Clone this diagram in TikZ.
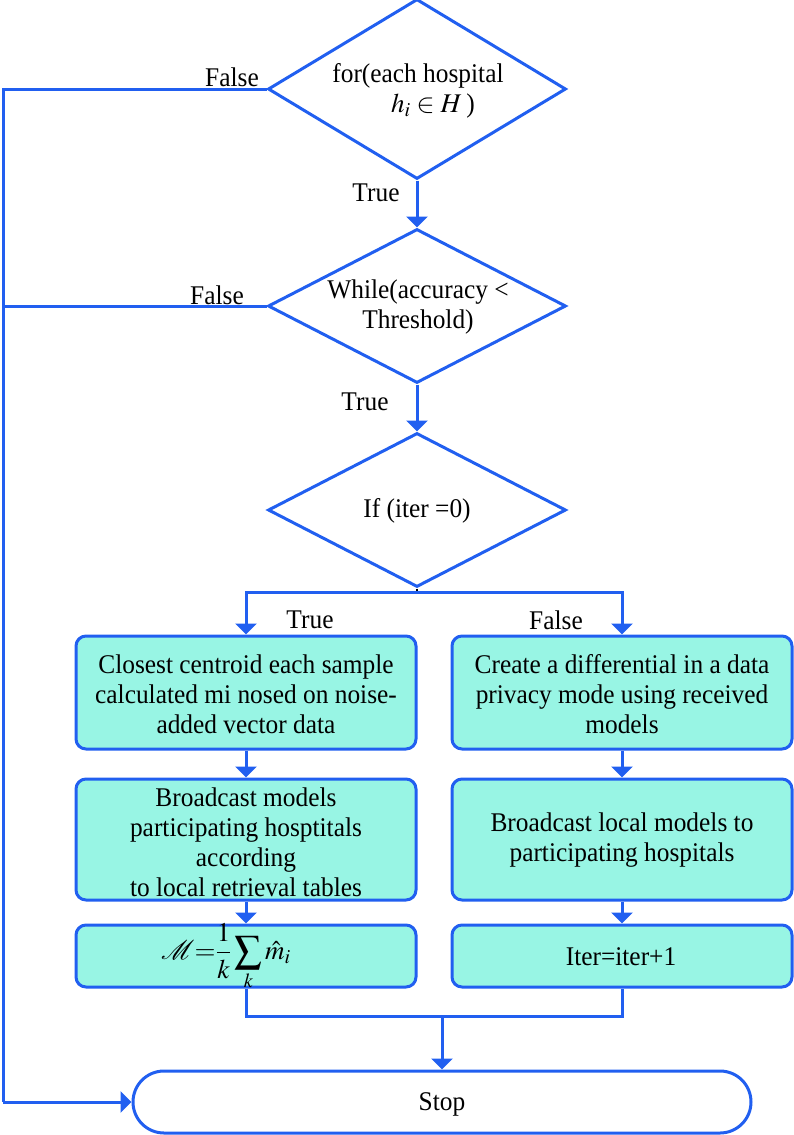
\documentclass[tikz,border=0pt]{standalone}
\usepackage{mathptmx}
\usepackage{fontspec}
\setmainfont{Liberation Serif}[FakeStretch=0.94]
\usetikzlibrary{arrows.meta,shapes.geometric}
\definecolor{fblue}{RGB}{33,95,240}
\definecolor{faqua}{RGB}{152,245,228}
\tikzset{
  dia/.style={draw=fblue,line width=3pt,shape=diamond,inner sep=0pt,minimum width=298pt,minimum height=154pt},
  procbox/.style={draw=fblue,fill=faqua,line width=3pt,rounded corners=10pt,minimum width=340pt,inner sep=0pt},
  txt/.style={align=center,font=\fontsize{27}{30}\selectfont,inner sep=0pt},
  lbl/.style={font=\fontsize{27}{30}\selectfont,inner sep=0pt},
  line/.style={draw=fblue,line width=3pt},
  arr/.style={line,-{Triangle[width=21pt,length=11pt]}},
}
\begin{document}
\begin{tikzpicture}[x=1pt,y=-1pt]
\useasboundingbox (0,0) rectangle (794,1135);
% decisions
\node[dia,minimum height=180pt] (d1) at (417,89) {};
\node[txt] (t1) at (418,91) {for(each hospital\\\hspace*{30pt}$h_i\in H$\,)};
\node[dia] (d2) at (417,306) {};
\node[txt] (t2) at (418,307) {While(accuracy <\\Threshold)};
\node[dia] (d3) at (417,510) {};
\node[txt] (t3) at (417,511) {If (iter =0)};
% process boxes
\node[procbox,minimum height=113pt] (L1) at (246,692.5) {};
\node[txt] (tL1) at (246,694) {Closest centroid each sample\\calculated mi nosed on noise-\\added vector data};
\node[procbox,minimum height=113pt] (R1) at (622,692.5) {};
\node[txt] (tR1) at (622,694) {Create a differential in a data\\privacy mode using received\\models};
\node[procbox,minimum height=121pt] (L2) at (246,839.5) {};
\node[txt] (tL2) at (246,842) {Broadcast models\\participating hosptitals\\according\\to local retrieval tables};
\node[procbox,minimum height=121pt] (R2) at (622,839.5) {};
\node[txt] (tR2) at (622,840) {Broadcast local models to\\participating hospitals};
\node[procbox,minimum height=62pt] (L3) at (246,956) {};
\node[txt] (tL3) at (226,957) {$\displaystyle \mathcal{M}{=}\frac{1}{k}\sum\limits_{k}\hat{m}_i$};
\node[procbox,minimum height=62pt] (R3) at (622,956) {};
\node[txt] (tR3) at (621,957) {Iter=iter+1};
% stop
\node[draw=fblue,line width=3pt,rounded corners=31pt,minimum width=618pt,minimum height=62pt,inner sep=0pt] (stop) at (442,1102) {};
\node[txt] (tstop) at (442,1104) {Stop};
% coordinates
\coordinate (c1) at (3,89);
\coordinate (c2) at (3,306);
\coordinate (c3) at (3,1102);
\coordinate (br) at (417,592);
\coordinate (j) at (442,1016);
% connectors
\draw[line] (d1.west) -- (c1) -- (c3);
\draw[arr] (c3) -- (stop.west);
\draw[line] (d2.west) -- (c2);
\draw[arr] (d1.south) -- (d2.north);
\draw[arr] (d2.south) -- (d3.north);
\draw[black,line width=1.5pt] (d3.south) -- (br);
\draw[arr] (br) -| (L1.north);
\draw[arr] (br) -| (R1.north);
\draw[arr] (L1.south) -- (L2.north);
\draw[arr] (R1.south) -- (R2.north);
\draw[arr] (L2.south) -- (L3.north);
\draw[arr] (R2.south) -- (R3.north);
\draw[line] (L3.south) |- (j) -| (R3.south);
\draw[arr] (j) -- (stop.north);
% labels
\node[lbl] (f1) at (232,77) {False};
\node[lbl] (f2) at (217,295) {False};
\node[lbl] (tr1) at (376,193) {True};
\node[lbl] (tr2) at (365,402) {True};
\node[lbl] (tr3) at (310,620) {True};
\node[lbl] (f3) at (556,620) {False};
\end{tikzpicture}
\end{document}
